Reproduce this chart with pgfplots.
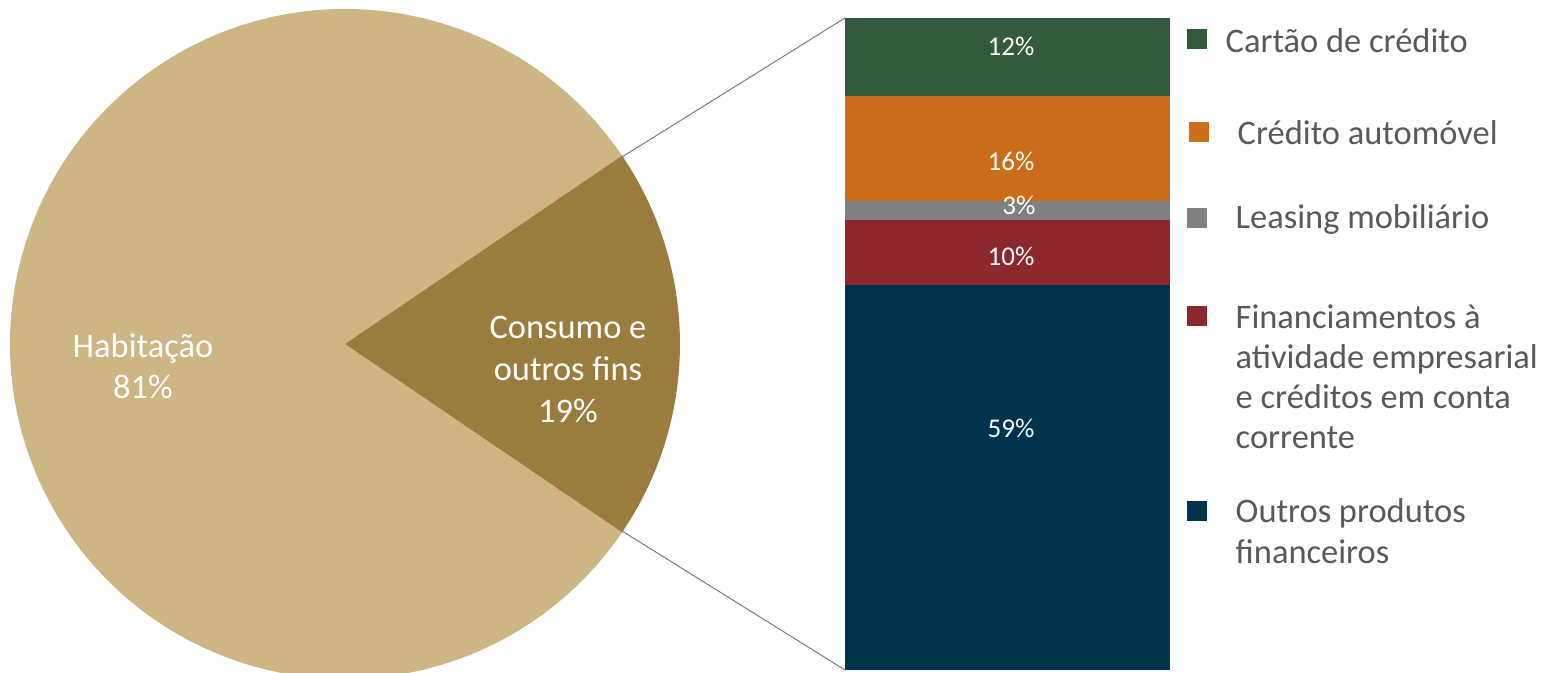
\documentclass[border=0pt]{standalone}
\usepackage{pgfplots}
\pgfplotsset{compat=1.18}
\usepackage{fontspec}
\setmainfont{Carlito}

\definecolor{pieLight}{HTML}{CDB584}
\definecolor{pieDark}{HTML}{9B7C3F}
\definecolor{cGreen}{HTML}{335A3C}
\definecolor{cOrange}{HTML}{CA6C18}
\definecolor{cGray}{HTML}{808080}
\definecolor{cRed}{HTML}{8C272D}
\definecolor{cNavy}{HTML}{00344E}
\definecolor{txtGray}{HTML}{595959}

% pie shares
\def\habit{81}
\def\consumo{19}

\newcommand{\bigfont}{\fontsize{9.8}{11.7}\selectfont}
\newcommand{\barfont}{\fontsize{7.7}{9}\selectfont}

\begin{document}
\begin{tikzpicture}
\useasboundingbox (0,0) rectangle (15.52,6.73);
\clip (0,0) rectangle (15.52,6.73);

% pie
\begin{axis}[at={(3.45cm,3.29cm)}, anchor=center, scale only axis,
  width=6.7cm, height=6.7cm, xmin=-1, xmax=1, ymin=-1, ymax=1,
  hide axis, clip=false]
\pgfmathsetmacro{\half}{\consumo*3.6/2}
\fill[pieLight] (axis cs:0,0) -- ++(\half:3.35cm)
  arc[start angle=\half, end angle=360-\half, radius=3.35cm] -- cycle;
\fill[pieDark] (axis cs:0,0) -- ++(-\half:3.35cm)
  arc[start angle=-\half, end angle=\half, radius=3.35cm] -- cycle;
\end{axis}

% stacked bar
\begin{axis}[at={(8.45cm,0.03cm)}, anchor=south west, scale only axis,
  width=3.25cm, height=6.52cm, xmin=-0.5, xmax=0.5, ymin=0, ymax=100,
  hide axis, clip=false, ybar stacked, bar width=3.25cm]
\addplot[fill=cNavy, draw=none] coordinates {(0,59)};
\addplot[fill=cRed, draw=none] coordinates {(0,10)};
\addplot[fill=cGray, draw=none] coordinates {(0,3)};
\addplot[fill=cOrange, draw=none] coordinates {(0,16)};
\addplot[fill=cGreen, draw=none] coordinates {(0,12)};
\end{axis}

% bar value labels
\begin{scope}[every node/.style={white, font=\barfont, inner sep=0pt}]
\node at (10.11,6.27) {12\%};
\node at (10.11,5.12) {16\%};
\node at (10.19,4.68) {3\%};
\node at (10.11,4.17) {10\%};
\node at (10.11,2.45) {59\%};
\end{scope}

% connector lines
\draw[gray, line width=0.3pt] (6.22,5.16) -- (8.45,6.55);
\draw[gray, line width=0.3pt] (6.22,1.42) -- (8.45,0.03);

% pie labels
\begin{scope}[every node/.style={white, font=\bigfont, anchor=base, inner sep=0pt}]
\node at (1.43,3.15) {Habitação};
\node at (1.43,2.74) {81\%};
\node at (5.68,3.34) {Consumo e};
\node at (5.68,2.92) {outros fins};
\node at (5.68,2.50) {19\%};
\end{scope}

% legend
\fill[cGreen]  (11.87,6.24) rectangle ++(0.2,0.2);
\fill[cOrange] (11.89,5.31) rectangle ++(0.2,0.2);
\fill[cGray]   (11.87,4.45) rectangle ++(0.2,0.2);
\fill[cRed]    (11.87,3.47) rectangle ++(0.2,0.2);
\fill[cNavy]   (11.87,1.52) rectangle ++(0.2,0.2);
\begin{scope}[every node/.style={txtGray, font=\bigfont, anchor=base west, inner sep=0pt}]
\node at (12.25,6.20) {Cartão de crédito};
\node at (12.37,5.28) {Crédito automóvel};
\node at (12.35,4.44) {Leasing mobiliário};
\node at (12.35,3.44) {Financiamentos à};
\node at (12.35,3.04) {atividade empresarial};
\node at (12.35,2.64) {e créditos em conta};
\node at (12.35,2.24) {corrente};
\node at (12.35,1.50) {Outros produtos};
\node at (12.35,1.09) {financeiros};
\end{scope}
\end{tikzpicture}
\end{document}
